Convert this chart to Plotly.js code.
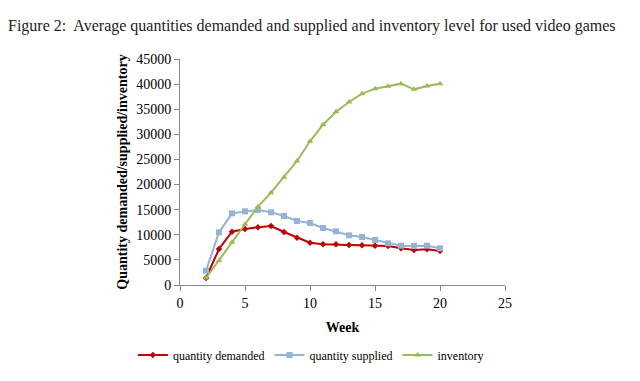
<!DOCTYPE html>
<html>
<head>
<meta charset="utf-8">
<script src="https://cdn.plot.ly/plotly-3.0.1.min.js"></script>
<style>html,body{margin:0;padding:0;background:#fff;}#chart{width:640px;height:381px;}</style>
</head>
<body>
<div id="chart"></div>
<script>
const weeks = [2,3,4,5,6,7,8,9,10,11,12,13,14,15,16,17,18,19,20];
const demanded = [1400,7170,10620,11150,11480,11750,10550,9430,8430,8100,8100,7970,7900,7830,7770,7300,6970,7100,6770];
const supplied = [2850,10490,14270,14670,14930,14470,13740,12740,12350,11350,10690,9890,9560,8960,8300,7830,7770,7830,7300];
const inventory = [1400,4840,8500,12090,15600,18380,21440,24690,28610,31920,34510,36440,38100,39090,39560,40090,38960,39630,40090];
const yTicks = [0,5000,10000,15000,20000,25000,30000,35000,40000,45000];
const xTicks = [0,5,10,15,20,25];

const serif = "Liberation Serif, Times New Roman, serif";
const traces = [
  {x: weeks, y: demanded, name: "quantity demanded", mode: "lines+markers",
   line: {color: "#c00000", width: 2}, marker: {symbol: "diamond", size: 5, color: "#c00000"}},
  {x: weeks, y: supplied, name: "quantity supplied", mode: "lines+markers",
   line: {color: "#95b3d7", width: 2}, marker: {symbol: "square", size: 6, color: "#95b3d7"}},
  {x: weeks, y: inventory, name: "inventory", mode: "lines+markers",
   line: {color: "#9bbb59", width: 2}, marker: {symbol: "triangle-up", size: 6, color: "#9bbb59"}}
];
const layout = {
  width: 640, height: 381,
  margin: {l: 180, r: 135, t: 59, b: 96},
  paper_bgcolor: "#fff", plot_bgcolor: "#fff",
  font: {family: serif, size: 13, color: "#000"},
  title: {text: "Figure 2:  Average quantities demanded and supplied and inventory level for used video games",
          font: {family: serif, size: 16, color: "#222"},
          x: 8/640, xanchor: "left", xref: "container", y: 0.934, yanchor: "middle"},
  xaxis: {range: [0, 25], tickvals: xTicks, ticktext: xTicks.map(String), showgrid: false, zeroline: false,
          showline: true, linecolor: "#888", linewidth: 1, ticks: "outside", ticklen: 5, tickcolor: "#888",
          tickfont: {family: serif, size: 14, color: "#000"},
          title: {text: "<b>Week</b>", font: {family: serif, size: 14, color: "#000"}, standoff: 12}},
  yaxis: {range: [0, 45000], tickvals: yTicks, ticktext: yTicks.map(String),
          showgrid: false, zeroline: false,
          showline: true, linecolor: "#888", linewidth: 1, ticks: "outside", ticklen: 5, tickcolor: "#888",
          tickfont: {family: serif, size: 14, color: "#000"},
          title: {text: "<b>Quantity demanded/supplied/inventory</b>", font: {family: serif, size: 14, color: "#000"}, standoff: 5}},
  legend: {orientation: "h", x: -0.145, xanchor: "left", y: -0.31, yanchor: "middle",
           font: {family: serif, size: 12, color: "#000"}, tracegroupgap: 0},
  showlegend: true
};
Plotly.newPlot("chart", traces, layout, {staticPlot: true, displayModeBar: false});
</script>
</body>
</html>
